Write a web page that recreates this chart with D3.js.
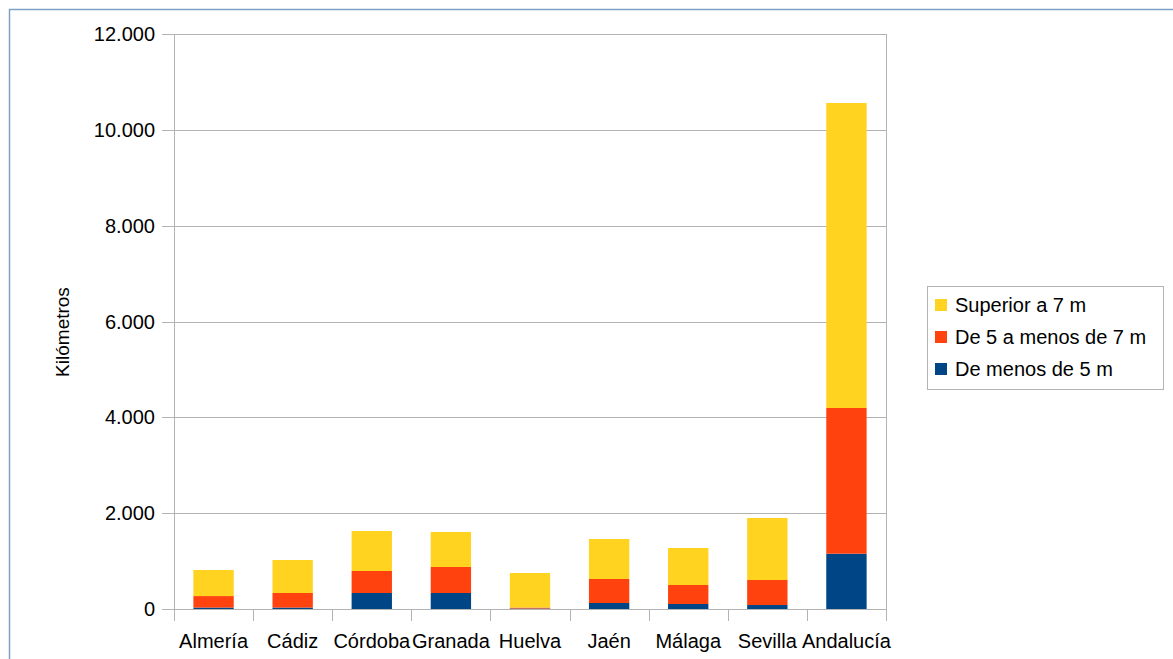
<!DOCTYPE html>
<html>
<head>
<meta charset="utf-8">
<script src="https://cdn.jsdelivr.net/npm/d3@7"></script>
<style>
  body { margin: 0; background: #fff; }
  text { font-family: "Liberation Sans", Arial, sans-serif; fill: #000; }
</style>
</head>
<body>
<div id="chart"></div>
<script>
const categories = ["Almería", "Cádiz", "Córdoba", "Granada", "Huelva", "Jaén", "Málaga", "Sevilla", "Andalucía"];
const menos5 = [30, 30, 334, 334, 10, 125, 104, 83, 1154];
const de5a7 = [240, 304, 459, 543, 20, 501, 397, 522, 3041];
const superior7 = [544, 689, 835, 730, 721, 835, 772, 1294, 6365];
const seriesNames = ["De menos de 5 m", "De 5 a menos de 7 m", "Superior a 7 m"];
const colors = ["#004586", "#ff420e", "#ffd320"];
const yTicks = [0, 2000, 4000, 6000, 8000, 10000, 12000];

const W = 1173, H = 659;
const margin = { left: 174, right: 287, top: 34, bottom: 50 };
const w = W - margin.left - margin.right;
const h = H - margin.top - margin.bottom;

const svg = d3.select("#chart").append("svg")
  .attr("width", W).attr("height", H);

// outer frame
svg.append("rect")
  .attr("x", 9.5).attr("y", 9.5)
  .attr("width", W + 20).attr("height", H + 20)
  .attr("fill", "none").attr("stroke", "#7f9fc4").attr("stroke-width", 1.5);

const g = svg.append("g").attr("transform", `translate(${margin.left},${margin.top})`);

const x = d3.scaleBand().domain(categories).range([0, w]).paddingInner(0.49).paddingOuter(0.245);
const xb = d3.scaleBand().domain(categories).range([0, w]);
const y = d3.scaleLinear().domain([0, 12000]).range([h, 0]);

const fmt = d => d3.format(",")(d).replace(/,/g, ".");

// gridlines + left ticks
g.selectAll(".grid").data(yTicks).enter().append("line")
  .attr("x1", -12).attr("x2", w)
  .attr("y1", d => Math.round(y(d)) + 0.5).attr("y2", d => Math.round(y(d)) + 0.5)
  .attr("stroke", "#b3b3b3").attr("stroke-width", 1);

g.selectAll(".ylab").data(yTicks).enter().append("text")
  .attr("x", -19).attr("y", d => y(d)).attr("dy", "0.35em")
  .attr("text-anchor", "end").style("font-size", "20px")
  .text(fmt);

// stacked bars
const rows = categories.map((c, i) => ({ cat: c, a: menos5[i], b: de5a7[i], c: superior7[i] }));
const stack = d3.stack().keys(["a", "b", "c"])(rows);
g.selectAll(".series").data(stack).enter().append("g")
  .attr("fill", (d, i) => colors[i])
  .selectAll("rect").data(d => d).enter().append("rect")
  .attr("x", d => x(d.data.cat))
  .attr("width", x.bandwidth())
  .attr("y", d => y(d[1]))
  .attr("height", d => y(d[0]) - y(d[1]));

// axes lines
g.append("line").attr("x1", 0.5).attr("x2", 0.5).attr("y1", 0).attr("y2", h + 12)
  .attr("stroke", "#b3b3b3");
g.append("line").attr("x1", w + 0.5).attr("x2", w + 0.5).attr("y1", 0).attr("y2", h + 12)
  .attr("stroke", "#b3b3b3");
g.selectAll(".xt").data(categories.slice(1)).enter().append("line")
  .attr("x1", d => Math.round(xb(d)) + 0.5).attr("x2", d => Math.round(xb(d)) + 0.5)
  .attr("y1", h).attr("y2", h + 12).attr("stroke", "#b3b3b3");

g.selectAll(".xlab").data(categories).enter().append("text")
  .attr("x", d => xb(d) + xb.bandwidth() / 2).attr("y", h + 39)
  .attr("text-anchor", "middle").style("font-size", "20px")
  .text(d => d);

// y title
svg.append("text")
  .attr("transform", "translate(69,332) rotate(-90)")
  .attr("text-anchor", "middle").style("font-size", "19px")
  .text("Kilómetros");

// legend
const lg = svg.append("g").attr("transform", "translate(927,286)");
lg.append("rect").attr("x", 0.5).attr("y", 0.5).attr("width", 236).attr("height", 103)
  .attr("fill", "#fff").attr("stroke", "#b3b3b3");
const legendItems = [2, 1, 0];
legendItems.forEach((k, i) => {
  lg.append("rect").attr("x", 8).attr("y", 13 + i * 32).attr("width", 12).attr("height", 12)
    .attr("fill", colors[k]);
  lg.append("text").attr("x", 28).attr("y", 19 + i * 32).attr("dy", "0.35em")
    .style("font-size", "20px").text(seriesNames[k]);
});
</script>
</body>
</html>
